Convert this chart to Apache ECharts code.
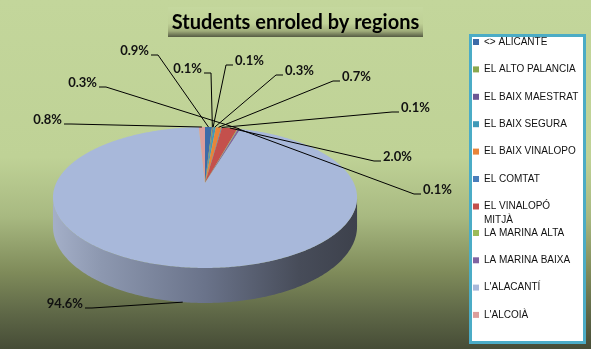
<!DOCTYPE html>
<html><head><meta charset="utf-8">
<script src="https://cdn.jsdelivr.net/npm/echarts/dist/echarts.min.js"></script>
<style>html,body{margin:0;padding:0;background:#c3d69b;}#c{width:591px;height:349px;}</style>
</head><body><div id="c"></div>
<script>
// ---- data ----
const regions = ['<> ALICANTE','EL ALTO PALANCIA','EL BAIX MAESTRAT','EL BAIX SEGURA','EL BAIX VINALOPO','EL COMTAT','EL VINALOPÓ MITJÀ','LA MARINA ALTA','LA MARINA BAIXA',"L'ALACANTÍ","L'ALCOIÀ"];
const shares = [0.9, 0.1, 0.1, 0.3, 0.7, 0.1, 2.0, 0.1, 0.3, 94.6, 0.8];
const titleText = 'Students enroled by regions';

// ---- styles / layout ----
const colors = ['#3d6ba8','#8aa84e','#6d5794','#3f9ab8','#e8843a','#4a7ebb','#c4504c','#9bbb59','#8064a2','#a8b8da','#dc9e9c'];
// label attach point (end of leader line) and side of text
const labelAt = [
  [151,55,'l'],[204,73,'l'],[233,65,'r'],[283,75,'r'],[340,81,'r'],[399,112,'r'],
  [381,161,'r'],[421,194,'r'],[99,87,'l'],[85,308,'l'],[64,124,'l']
];
const CX = 205, CY = 183, A = 148.8, B = 67.5, K = 0.2057, H = 27.8;

const total = shares.reduce((a,b)=>a+b,0);
const cum = [0];
shares.forEach(v => cum.push(cum[cum.length-1] + v));

function proj(t, down) {
  const u = Math.sin(t), w = Math.cos(t);
  const s = 1 / (1 + K * w);
  return [CX + A * u * s, CY - B * w * s + (down ? H * s : 0)];
}
const sideFill = {type:'linear', x:53, y:0, x2:357, y2:0, global:true, colorStops:[
  {offset:0, color:'#a4afc8'},{offset:0.155, color:'#8d98b0'},{offset:0.5, color:'#6a738a'},
  {offset:0.81, color:'#474c59'},{offset:1, color:'#3d414c'}]};

function makeRender(i) {
  return function (params, api) {
    const children = [];
    const a0 = cum[i] / total * 2 * Math.PI, a1 = cum[i+1] / total * 2 * Math.PI;
    const n = Math.max(2, Math.ceil((a1 - a0) / 0.01));
    const top = [[CX, CY]];
    for (let j = 0; j <= n; j++) top.push(proj(a0 + (a1 - a0) * j / n, false));
    const v0 = Math.acos(-K), v1 = 2 * Math.PI - v0;
    const b0 = Math.max(a0, v0), b1 = Math.min(a1, v1);
    if (b1 > b0) {
      const m = Math.max(2, Math.ceil((b1 - b0) / 0.01));
      const up = [], dn = [];
      for (let j = 0; j <= m; j++) {
        const t = b0 + (b1 - b0) * j / m;
        up.push(proj(t, false)); dn.push(proj(t, true));
      }
      children.push({type:'polygon', shape:{points: up.concat(dn.reverse())}, style:{fill: sideFill}, z2: 5});
    }
    children.push({type:'polygon', shape:{points: top}, style:{fill: colors[i]}, z2: 10});
    // leader line + label
    const mid = (a0 + a1) / 2;
    const front = Math.cos(mid) < -K;
    const anchor = proj(mid, front);
    const L = labelAt[i];
    const knee = [L[0] + (L[2] === 'l' ? 7 : -7), L[1]];
    children.push({type:'polyline', shape:{points:[anchor, knee, [L[0], L[1]]]}, style:{stroke:'#000', lineWidth:1, fill:null}, z2: 20});
    children.push({type:'text', x: L[0] + (L[2] === 'l' ? -2 : 2), y: L[1] - 4,
      style:{text: (shares[i] / total * 100).toFixed(1) + '%', align: L[2] === 'l' ? 'right' : 'left', verticalAlign:'middle',
        fontSize: 13, fontWeight:'bold', fontFamily:'Lato', fill:'#111'}, z2: 21});
    return {type:'group', children};
  };
}

const series = regions.map((name, i) => ({
  type:'custom', name, coordinateSystem:'none', silent:true, animation:false,
  itemStyle:{color: colors[i]}, data:[[shares[i]]], renderItem: makeRender(i)
}));

const legendText = {fontSize:10, lineHeight:14, fontFamily:'Liberation Sans', color:'#111'};
const chart = echarts.init(document.getElementById('c'));
chart.setOption({
  animation:false,
  backgroundColor:{type:'linear', x:0, y:0, x2:0, y2:1, colorStops:[
    {offset:0, color:'#c3d69b'},{offset:0.45, color:'#bfd296'},{offset:0.62, color:'#a8b981'},
    {offset:0.78, color:'#7f8b5a'},{offset:0.9, color:'#5e6747'},{offset:1, color:'#464c36'}]},
  title:{text:titleText, left:'center', top:11, padding:0,
    textStyle:{fontFamily:'Lato', fontWeight:'bold', fontSize:20, lineHeight:24, color:'#000'}},
  graphic:[
    {type:'rect', left:168, top:7, z:-1, shape:{width:255, height:30},
      style:{fill:{type:'linear', x:0, y:0, x2:0, y2:1, colorStops:[
        {offset:0, color:'#c5d89e'},{offset:0.55, color:'#bfd196'},{offset:0.8, color:'#a0ad7b'},{offset:1, color:'#555b43'}]}}},
    {type:'rect', shape:{x:470.5, y:35.5, width:114, height:307}, z:-1,
      style:{fill:'#ffffff', stroke:'#4bacc6', lineWidth:3}}
  ],
  legend:[
    {data: regions.slice(0,6), orient:'vertical', left:473, top:35, padding:0, itemWidth:6, itemHeight:6, itemGap:13.4,
      icon:'rect', selectedMode:false, textStyle:legendText},
    {data: regions.slice(6,7), orient:'vertical', left:473, top:185.5, padding:0, itemWidth:6, itemHeight:6,
      icon:'rect', selectedMode:false, textStyle:legendText,
      formatter: n => '\n' + n.replace(' MITJÀ', '\nMITJÀ')},
    {data: regions.slice(7), orient:'vertical', left:473, top:226, padding:0, itemWidth:6, itemHeight:6, itemGap:13.3,
      icon:'rect', selectedMode:false, textStyle:legendText}
  ],
  series
});
</script></body></html>
